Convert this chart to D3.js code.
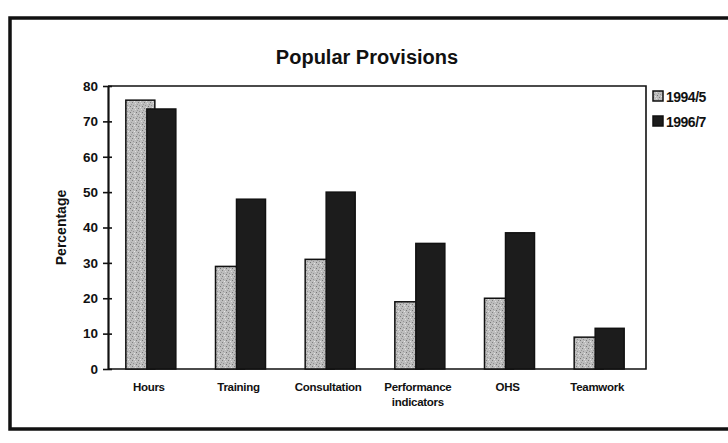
<!DOCTYPE html>
<html>
<head>
<meta charset="utf-8">
<script src="https://cdn.jsdelivr.net/npm/d3@7"></script>
<style>
  html, body { margin: 0; padding: 0; background: #fff; }
  svg { display: block; }
</style>
</head>
<body>
<svg id="chart" width="728" height="443"></svg>
<script>
// Share of agreements containing each provision, by period
const categories = ["Hours", "Training", "Consultation", "Performance indicators", "OHS", "Teamwork"];
const categoryLines = [["Hours"], ["Training"], ["Consultation"], ["Performance", "indicators"], ["OHS"], ["Teamwork"]];
const seriesNames = ["1994/5", "1996/7"];
const values1994 = [76, 29, 31, 19, 20, 9];
const values1996 = [73.5, 48, 50, 35.5, 38.5, 11.5];
const yTicks = [0, 10, 20, 30, 40, 50, 60, 70, 80];

const svg = d3.select("#chart");
const sans = "'Liberation Sans', Arial, Helvetica, sans-serif";

// Stippled grey fill for the earlier period
const defs = svg.append("defs");
const pat = defs.append("pattern")
  .attr("id", "stipple").attr("patternUnits", "userSpaceOnUse")
  .attr("width", 6).attr("height", 6);
pat.append("rect").attr("width", 6).attr("height", 6).attr("fill", "#bdbdbd");
[[0,0,"#808080"],[3,1,"#dddddd"],[1,3,"#939393"],[4,4,"#777777"],[2,5,"#e4e4e4"],[5,2,"#999999"]]
  .forEach(([x, y, c]) => pat.append("rect").attr("x", x).attr("y", y)
    .attr("width", 1).attr("height", 1).attr("fill", c));

// Outer frame
svg.append("rect")
  .attr("x", 10).attr("y", 18).attr("width", 730).attr("height", 411)
  .attr("fill", "none").attr("stroke", "#111").attr("stroke-width", 3.5);

// Title
svg.append("text")
  .attr("x", 367).attr("y", 64)
  .attr("text-anchor", "middle")
  .attr("font-family", sans).attr("font-weight", "bold").attr("font-size", 20)
  .attr("fill", "#111")
  .text("Popular Provisions");

const plot = { left: 108, right: 646, top: 86, bottom: 369 };

const x = d3.scaleBand().domain(categories).range([plot.left, plot.right]).paddingInner(0).paddingOuter(0);
const y = d3.scaleLinear().domain([0, 80]).range([plot.bottom, plot.top]);

const barW = 29;
const offsets = [-27, -6];   // bars overlap slightly; later series drawn on top
const fills = ["url(#stipple)", "#1c1c1c"];
const series = [values1994, values1996];

// Plot area border (top, right, bottom)
svg.append("path")
  .attr("d", `M${plot.left},${plot.top}H${plot.right}V${plot.bottom}H${plot.left}`)
  .attr("fill", "none").attr("stroke", "#111").attr("stroke-width", 1.6);

// Bars
series.forEach((vals, si) => {
  svg.append("g").selectAll("rect").data(vals).join("rect")
    .attr("x", (d, i) => x(categories[i]) + x.bandwidth() / 2 + offsets[si])
    .attr("y", d => y(d))
    .attr("width", barW)
    .attr("height", d => y(0) - y(d))
    .attr("fill", fills[si])
    .attr("stroke", "#111").attr("stroke-width", 1.5);
});

// Y axis
const yAxis = svg.append("g")
  .attr("transform", `translate(${plot.left},0)`)
  .call(d3.axisLeft(y).tickValues(yTicks).tickSize(0).tickPadding(10));
yAxis.select(".domain").attr("stroke", "#111").attr("stroke-width", 2.2);
yAxis.selectAll(".tick").append("line")
  .attr("x1", -5).attr("x2", 4).attr("stroke", "#111").attr("stroke-width", 1.6);
yAxis.selectAll("text")
  .attr("font-family", sans).attr("font-weight", "bold").attr("font-size", 13.5)
  .attr("fill", "#111");

// Y axis title
svg.append("text")
  .attr("transform", `translate(66,${(plot.top + plot.bottom) / 2}) rotate(-90)`)
  .attr("text-anchor", "middle")
  .attr("font-family", sans).attr("font-weight", "bold").attr("font-size", 14)
  .attr("fill", "#111")
  .text("Percentage");

// Category labels
const xAxis = svg.append("g")
  .attr("transform", `translate(0,${plot.bottom})`)
  .call(d3.axisBottom(x).tickSize(0).tickFormat(""));
xAxis.select(".domain").remove();
svg.append("g").selectAll("text").data(categories).join("text")
  .attr("x", d => x(d) + x.bandwidth() / 2 - 4)
  .attr("y", plot.bottom + 22)
  .attr("text-anchor", "middle")
  .attr("font-family", sans).attr("font-weight", "bold").attr("font-size", 11.5)
  .attr("letter-spacing", -0.3)
  .attr("fill", "#111")
  .each(function(d, i) {
    const t = d3.select(this);
    categoryLines[i].forEach((line, li) => {
      t.append("tspan").attr("x", x(d) + x.bandwidth() / 2 - 4)
        .attr("dy", li === 0 ? 0 : 15).text(line);
    });
  });

// Legend
const legend = svg.append("g").attr("transform", "translate(653,91)");
seriesNames.forEach((name, i) => {
  const g = legend.append("g").attr("transform", `translate(0,${i * 25})`);
  g.append("rect").attr("x", 0).attr("y", 0).attr("width", 10).attr("height", 10)
    .attr("fill", fills[i]).attr("stroke", "#111").attr("stroke-width", 1.5);
  g.append("text").attr("x", 13).attr("y", 10.5)
    .attr("font-family", sans).attr("font-weight", "bold").attr("font-size", 14)
    .attr("letter-spacing", -0.5)
    .attr("fill", "#111").text(name);
});
</script>
</body>
</html>
